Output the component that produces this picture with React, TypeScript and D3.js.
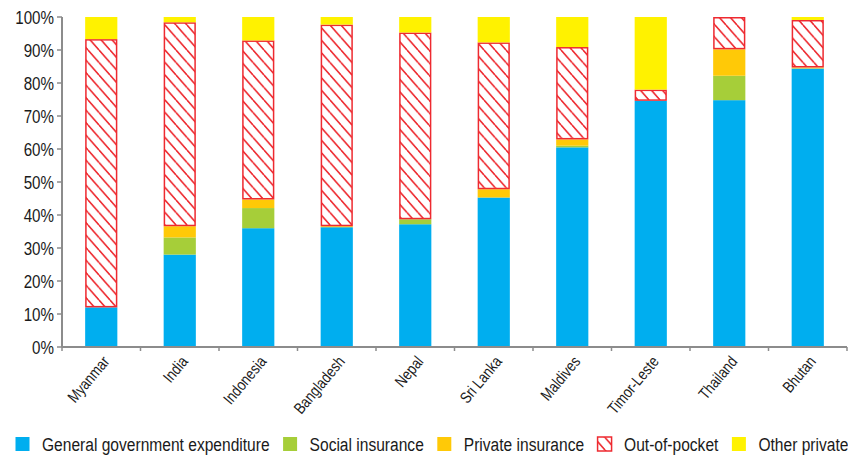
import React, { useEffect, useRef } from "react";
import * as d3 from "d3";

const categories = ["Myanmar", "India", "Indonesia", "Bangladesh", "Nepal", "Sri Lanka", "Maldives", "Timor-Leste", "Thailand", "Bhutan"];
const governmentValues = [12.0, 28.0, 36.0, 36.3, 37.2, 45.3, 60.5, 74.6, 74.8, 84.4];
const socialInsuranceValues = [0, 5.2, 6.1, 0, 1.5, 0, 0.5, 0, 7.4, 0];
const privateInsuranceValues = [0, 3.4, 2.6, 0.3, 0, 2.5, 1.9, 0, 8.0, 0.3];
const outOfPocketValues = [81.3, 61.8, 48.2, 61.1, 56.6, 44.5, 28.0, 3.4, 9.8, 14.4];
const otherPrivateValues = [6.7, 1.6, 7.1, 2.3, 4.7, 7.7, 9.1, 22.0, 0, 0.9];
const seriesNames = ["General government expenditure", "Social insurance", "Private insurance", "Out-of-pocket", "Other private"];
const yTicks = [0, 10, 20, 30, 40, 50, 60, 70, 80, 90, 100];

const seriesColors = ["#00aeef", "#a6ce39", "#ffc907", "url(#oopHatch)", "#fff200"];
const FONT = "'Liberation Sans', Arial, sans-serif";
const NARROW = 0.82;

export default function App() {
  const ref = useRef<SVGSVGElement>(null);

  useEffect(() => {
    const svg = d3.select(ref.current!);
    svg.selectAll("*").remove();

    const left = 62, right = 847, top = 17, bottom = 347;

    const defs = svg.append("defs");
    const pat = defs.append("pattern")
      .attr("id", "oopHatch")
      .attr("patternUnits", "userSpaceOnUse")
      .attr("width", 11)
      .attr("height", 12.5);
    pat.append("rect").attr("width", 11).attr("height", 12.5).attr("fill", "#fff");
    const hatch = [[-11, -12.5, 11, 12.5], [0, 0, 11, 12.5], [0, -12.5, 22, 12.5], [-11, 0, 11, 25]];
    hatch.forEach(([x1, y1, x2, y2]) => {
      pat.append("line").attr("x1", x1).attr("y1", y1).attr("x2", x2).attr("y2", y2)
        .attr("stroke", "#ee2a30").attr("stroke-width", 1.3);
    });

    const x = d3.scaleBand<string>().domain(categories).range([left, right]).padding(0);
    const y = d3.scaleLinear().domain([0, 100]).range([bottom, top]);

    const rows = categories.map((c, i) => ({
      cat: c,
      s0: governmentValues[i],
      s1: socialInsuranceValues[i],
      s2: privateInsuranceValues[i],
      s3: outOfPocketValues[i],
      s4: otherPrivateValues[i],
    }));
    const stack = d3.stack<any>().keys(["s0", "s1", "s2", "s3", "s4"]);
    const stacked = stack(rows);

    const barW = x.step() * 0.41;
    const g = svg.append("g");
    stacked.forEach((layer, li) => {
      layer.forEach((d: any) => {
        const h = y(d[0]) - y(d[1]);
        if (h <= 0) return;
        const cx = x(d.data.cat)! + x.bandwidth() / 2;
        const r = g.append("rect")
          .attr("x", cx - barW / 2)
          .attr("y", y(d[1]))
          .attr("width", barW)
          .attr("height", h)
          .attr("fill", seriesColors[li]);
        if (li === 3) {
          r.attr("x", cx - barW / 2 + 0.75)
            .attr("y", y(d[1]) + 0.75)
            .attr("width", barW - 1.5)
            .attr("height", Math.max(0, h - 1.5))
            .attr("stroke", "#ee2a30").attr("stroke-width", 1.5);
        }
      });
    });

    const axisColor = "#8c8c8c";
    const textColor = "#1a1a1a";
    // Y axis
    svg.append("line").attr("x1", left).attr("x2", left).attr("y1", top).attr("y2", bottom)
      .attr("stroke", axisColor).attr("stroke-width", 2);
    yTicks.forEach((t) => {
      svg.append("line").attr("x1", left - 5).attr("x2", left).attr("y1", y(t)).attr("y2", y(t))
        .attr("stroke", axisColor).attr("stroke-width", 1.5);
      svg.append("text")
        .attr("transform", `translate(${left - 8},${y(t)}) scale(${NARROW},1)`)
        .attr("dy", "0.36em")
        .attr("text-anchor", "end").attr("font-family", FONT).attr("font-size", 18.5).attr("fill", textColor)
        .text(`${t}%`);
    });

    // X axis
    svg.append("line").attr("x1", left).attr("x2", right).attr("y1", bottom).attr("y2", bottom)
      .attr("stroke", axisColor).attr("stroke-width", 2);
    const edges = categories.map((c) => x(c)!).concat([right]);
    edges.forEach((ex) => {
      svg.append("line").attr("x1", ex).attr("x2", ex).attr("y1", bottom).attr("y2", bottom + 4)
        .attr("stroke", axisColor).attr("stroke-width", 1.5);
    });
    categories.forEach((c) => {
      const cx = x(c)! + x.bandwidth() / 2 + 9;
      const cy = bottom + 15;
      svg.append("text")
        .attr("transform", `translate(${cx},${cy}) rotate(-50) scale(${NARROW},1)`)
        .attr("text-anchor", "end")
        .attr("font-family", FONT).attr("font-size", 16).attr("fill", textColor)
        .text(c);
    });

    // Legend
    let lx = 15.5;
    const ly = 437;
    seriesNames.forEach((name, i) => {
      svg.append("rect").attr("x", lx).attr("y", ly).attr("width", 14).attr("height", 14)
        .attr("fill", seriesColors[i])
        .attr("stroke", i === 3 ? "#ee2a30" : "none").attr("stroke-width", 1.5);
      const t = svg.append("text")
        .attr("transform", `translate(${lx + 26.5},${ly + 13.5}) scale(${NARROW},1)`)
        .attr("font-family", FONT).attr("font-size", 19).attr("fill", textColor)
        .text(name);
      const w = (t.node() as SVGTextElement).getComputedTextLength() * NARROW;
      lx = lx + 26.5 + w + 13.5;
    });
  }, []);

  return (
    <svg ref={ref} width={848} height={456} style={{ position: "absolute", left: 0, top: 0, background: "#fff" }} />
  );
}
